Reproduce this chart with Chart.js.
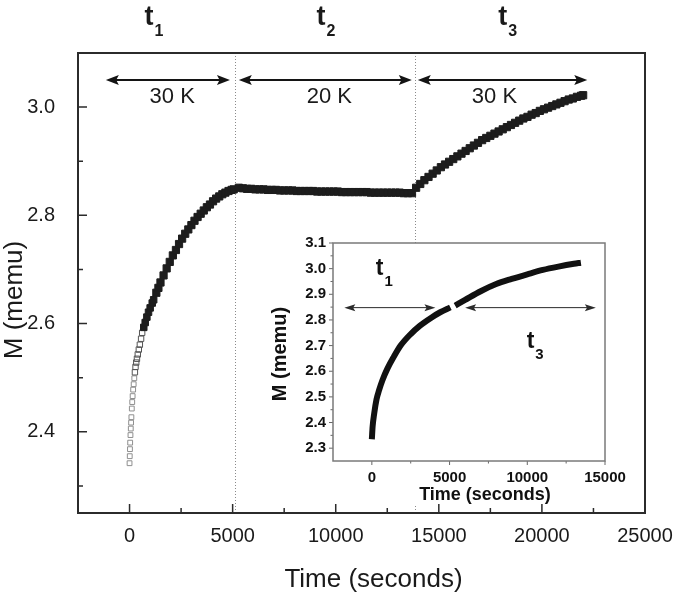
<!DOCTYPE html>
<html>
<head>
<meta charset="utf-8">
<script src="https://cdn.jsdelivr.net/npm/chart.js@4.4.1/dist/chart.umd.min.js"></script>
<style>
  html, body { margin: 0; padding: 0; background: #fff; }
  #wrap { position: relative; width: 675px; height: 595px; }
  #mainChart { position: absolute; left: 0; top: 0; }
  #insetChart { position: absolute; left: 262px; top: 232px; }
</style>
</head>
<body>
<div id="wrap">
  <canvas id="mainChart" width="675" height="595"></canvas>
  <canvas id="insetChart" width="375" height="272"></canvas>
</div>
<script>
// main curve (time in s, M in memu)
var timeT1 = [0, 10, 20, 30, 45, 60, 75, 90, 110, 130, 150, 175, 200, 230, 260, 290, 325, 360, 400, 450,
  500, 560, 612, 690, 760, 840, 920, 1000, 1100, 1170, 1300, 1400, 1500, 1650, 1800, 1950, 2100, 2250, 2400, 2550,
  2700, 2850, 3000, 3150, 3300, 3450, 3600, 3750, 3900, 4050, 4200, 4350, 4500, 4650, 4800, 4950, 5050];
var magT1 = [2.342, 2.355, 2.368, 2.380, 2.394, 2.406, 2.417, 2.427, 2.443, 2.455, 2.466, 2.478, 2.488, 2.499, 2.510, 2.520, 2.528, 2.535, 2.543, 2.552,
  2.561, 2.572, 2.583, 2.593, 2.602, 2.612, 2.621, 2.629, 2.638, 2.644, 2.657, 2.666, 2.676, 2.689, 2.702, 2.714, 2.726, 2.736, 2.747, 2.757,
  2.766, 2.774, 2.782, 2.790, 2.797, 2.803, 2.809, 2.815, 2.820, 2.826, 2.831, 2.835, 2.839, 2.842, 2.845, 2.847, 2.848];

var timeT2 = [5300, 5500, 5700, 5900, 6100, 6300, 6500, 6700, 6900, 7100, 7300, 7500, 7700, 7900, 8100, 8300, 8500, 8700, 8900, 9100,
  9300, 9500, 9700, 9900, 10100, 10300, 10500, 10700, 10900, 11100, 11300, 11500, 11700, 11900, 12100, 12300, 12500, 12700, 12900, 13100,
  13300, 13500, 13700];
var magT2 = [2.851, 2.850, 2.849, 2.849, 2.848, 2.848, 2.848, 2.847, 2.847, 2.847, 2.846, 2.846, 2.846, 2.846, 2.845, 2.845, 2.845, 2.845, 2.845, 2.844,
  2.844, 2.844, 2.844, 2.844, 2.844, 2.843, 2.843, 2.843, 2.843, 2.843, 2.843, 2.843, 2.842, 2.842, 2.842, 2.842, 2.842, 2.842, 2.842, 2.842,
  2.841, 2.841, 2.841];

var timeT3 = [13900, 14100, 14300, 14500, 14700, 14900, 15100, 15300, 15500, 15700, 15900, 16100, 16300, 16500, 16700, 16900, 17100, 17300, 17500, 17700,
  17900, 18100, 18300, 18500, 18700, 18900, 19100, 19300, 19500, 19700, 19900, 20100, 20300, 20500, 20700, 20900, 21100, 21300, 21500, 21700,
  21900, 22000];
var magT3 = [2.851, 2.858, 2.865, 2.871, 2.877, 2.883, 2.889, 2.894, 2.899, 2.904, 2.909, 2.914, 2.919, 2.924, 2.929, 2.934, 2.939, 2.943, 2.947, 2.951,
  2.955, 2.959, 2.963, 2.967, 2.971, 2.975, 2.979, 2.982, 2.986, 2.989, 2.993, 2.996, 2.999, 3.002, 3.005, 3.008, 3.011, 3.014, 3.016, 3.019,
  3.021, 3.022];

// inset curve (t1 and t3 joined)
var insetTimeA = [0, 50, 150, 300, 470, 680, 1000, 1400, 1850, 2500, 3100, 3800, 4400, 5050];
var insetMagA = [2.335, 2.385, 2.435, 2.490, 2.527, 2.565, 2.610, 2.655, 2.700, 2.745, 2.778, 2.808, 2.830, 2.849];
var insetTimeB = [5360, 6000, 7000, 8000, 9000, 10000, 11000, 12000, 13000, 13450];
var insetMagB = [2.856, 2.878, 2.912, 2.940, 2.960, 2.978, 2.995, 3.008, 3.019, 3.023];

// ticks
var xMajor = [0, 5000, 10000, 15000, 20000, 25000];
var xMinor = [2500, 7500, 12500, 17500, 22500];
var yMajor = [2.4, 2.6, 2.8, 3.0];
var yMinor = [2.3, 2.5, 2.7, 2.9];
var insetXMajor = [0, 5000, 10000, 15000];
var insetXMinor = [2500, 7500, 12500];
var insetYMajor = [2.3, 2.4, 2.5, 2.6, 2.7, 2.8, 2.9, 3.0, 3.1];
var insetYMinor = [2.35, 2.45, 2.55, 2.65, 2.75, 2.85, 2.95, 3.05];

// annotations
var stepBounds = [5125, 13860];
var arrowFrom = [-1150, 5300, 13980];
var arrowTo = [4870, 13690, 22200];
var arrowLevel = 3.05;
var tempLabels = ['30 K', '20 K', '30 K'];
var tempLabelTime = [2070, 9690, 17700];
var tempLabelLevel = 3.018;
var phaseSubs = ['1', '2', '3'];
var phaseTime = [723, 9065, 17888];

var insetArrowFrom = [-1770, 6000];
var insetArrowTo = [4090, 14410];
var insetArrowLevel = 2.848;
var insetPhaseSubs = ['1', '3'];
var insetPhaseTime = [255, 9962];
var insetPhaseLevel = [2.975, 2.689];

var FONT = "'Liberation Sans', Arial, sans-serif";
var NARROW = "'Liberation Sans Narrow', 'Liberation Sans', Arial, sans-serif";

function toPoints(xs, ys) {
    return xs.map(function (x, i) { return { x: x, y: ys[i] }; });
}

function drawArrow(ctx, x1, x2, y, head, half, lw, color) {
    ctx.strokeStyle = color;
    ctx.fillStyle = color;
    ctx.lineWidth = lw;
    ctx.beginPath();
    ctx.moveTo(x1 + head * 0.5, y);
    ctx.lineTo(x2 - head * 0.5, y);
    ctx.stroke();
    ctx.beginPath();
    ctx.moveTo(x1, y);
    ctx.lineTo(x1 + head, y - half);
    ctx.lineTo(x1 + head * 0.8, y);
    ctx.lineTo(x1 + head, y + half);
    ctx.closePath();
    ctx.fill();
    ctx.beginPath();
    ctx.moveTo(x2, y);
    ctx.lineTo(x2 - head, y - half);
    ctx.lineTo(x2 - head * 0.8, y);
    ctx.lineTo(x2 - head, y + half);
    ctx.closePath();
    ctx.fill();
}

// tick marks; dir +1 = into the plot, -1 = outward
function drawTicks(ctx, chart, xs, ys, majLen, minLen, dir, color, lw) {
    var a = chart.chartArea;
    ctx.strokeStyle = color;
    ctx.lineWidth = lw;
    ctx.beginPath();
    [[xs[0], majLen], [xs[1], minLen]].forEach(function (set) {
        set[0].forEach(function (v) {
            var px = chart.scales.x.getPixelForValue(v);
            ctx.moveTo(px, a.bottom);
            ctx.lineTo(px, a.bottom - dir * set[1]);
        });
    });
    [[ys[0], majLen], [ys[1], minLen]].forEach(function (set) {
        set[0].forEach(function (v) {
            var py = chart.scales.y.getPixelForValue(v);
            ctx.moveTo(a.left, py);
            ctx.lineTo(a.left + dir * set[1], py);
        });
    });
    ctx.stroke();
}

function subLabel(ctx, x, y, sub, bigFont, smallFont, dy) {
    ctx.textAlign = 'left';
    ctx.textBaseline = 'alphabetic';
    ctx.font = bigFont;
    ctx.fillText('t', x, y);
    var w = ctx.measureText('t').width;
    ctx.font = smallFont;
    ctx.fillText(sub, x + w + 1, y + dy);
}

var mainDecor = {
    id: 'mainDecor',
    beforeDatasetsDraw: function (chart) {
        var ctx = chart.ctx, a = chart.chartArea, xs = chart.scales.x;
        ctx.save();
        ctx.strokeStyle = '#8a8a8a';
        ctx.lineWidth = 1;
        ctx.setLineDash([1, 2]);
        stepBounds.forEach(function (t) {
            var px = Math.round(xs.getPixelForValue(t)) + 0.5;
            ctx.beginPath();
            ctx.moveTo(px, a.top);
            ctx.lineTo(px, a.bottom);
            ctx.stroke();
        });
        ctx.setLineDash([]);
        drawTicks(ctx, chart, [xMajor, xMinor], [yMajor, yMinor], 9, 5, 1, '#2b2b2b', 1.5);
        ctx.lineWidth = 2;
        ctx.strokeStyle = '#2b2b2b';
        ctx.strokeRect(a.left, a.top, a.right - a.left, a.bottom - a.top);
        ctx.restore();
    },
    afterDatasetsDraw: function (chart) {
        var ctx = chart.ctx, a = chart.chartArea, xs = chart.scales.x, ys = chart.scales.y;
        ctx.save();
        var ay = ys.getPixelForValue(arrowLevel);
        arrowFrom.forEach(function (t, i) {
            drawArrow(ctx, xs.getPixelForValue(t), xs.getPixelForValue(arrowTo[i]), ay, 13, 5, 2, '#141414');
        });
        ctx.fillStyle = '#1a1a1a';
        ctx.font = '22px ' + FONT;
        ctx.textAlign = 'center';
        ctx.textBaseline = 'middle';
        tempLabels.forEach(function (txt, i) {
            ctx.fillText(txt, xs.getPixelForValue(tempLabelTime[i]), ys.getPixelForValue(tempLabelLevel));
        });
        phaseSubs.forEach(function (s, i) {
            subLabel(ctx, xs.getPixelForValue(phaseTime[i]), 25, s, 'bold 27px ' + NARROW, 'bold 16px ' + NARROW, 11);
        });
        // axis titles
        ctx.font = '26px ' + FONT;
        ctx.textAlign = 'center';
        ctx.textBaseline = 'middle';
        ctx.fillText('Time (seconds)', (a.left + a.right) / 2 + 12, 580);
        ctx.translate(15, (a.top + a.bottom) / 2 + 17);
        ctx.rotate(-Math.PI / 2);
        ctx.fillText('M (memu)', 0, 0);
        ctx.restore();
    }
};

var insetDecor = {
    id: 'insetDecor',
    beforeDraw: function (chart) {
        var ctx = chart.ctx, a = chart.chartArea;
        ctx.save();
        ctx.fillStyle = '#ffffff';
        ctx.fillRect(0, a.top, chart.width, chart.height - a.top);
        ctx.restore();
    },
    beforeDatasetsDraw: function (chart) {
        var ctx = chart.ctx, a = chart.chartArea;
        ctx.save();
        drawTicks(ctx, chart, [insetXMajor, insetXMinor], [insetYMajor, insetYMinor], 4, 2.5, -1, '#666', 1);
        ctx.lineWidth = 1.5;
        ctx.strokeStyle = '#7a7a7a';
        ctx.strokeRect(a.left, a.top, a.right - a.left, a.bottom - a.top);
        ctx.restore();
    },
    afterDatasetsDraw: function (chart) {
        var ctx = chart.ctx, a = chart.chartArea, xs = chart.scales.x, ys = chart.scales.y;
        ctx.save();
        var ay = ys.getPixelForValue(insetArrowLevel);
        insetArrowFrom.forEach(function (t, i) {
            drawArrow(ctx, xs.getPixelForValue(t), xs.getPixelForValue(insetArrowTo[i]), ay, 11, 3.5, 1, '#2a2a2a');
        });
        ctx.fillStyle = '#111';
        insetPhaseSubs.forEach(function (s, i) {
            subLabel(ctx, xs.getPixelForValue(insetPhaseTime[i]), ys.getPixelForValue(insetPhaseLevel[i]), s,
                'bold 23px ' + NARROW, 'bold 15px ' + NARROW, 11);
        });
        ctx.font = 'bold 18px ' + FONT;
        ctx.textAlign = 'center';
        ctx.textBaseline = 'middle';
        ctx.fillText('Time (seconds)', 223, 263);
        ctx.font = 'bold 20px ' + FONT;
        ctx.translate(18, (a.top + a.bottom) / 2 + 2);
        ctx.rotate(-Math.PI / 2);
        ctx.fillText('M (memu)', 0, 0);
        ctx.restore();
    }
};

function fixedTicks(list) {
    return function (scale) {
        scale.ticks = list.map(function (v) { return { value: v }; });
    };
}

// keep tick labels from pushing the plot area in
function fixedSize(prop, size) {
    return function (scale) {
        scale[prop] = size;
        scale.paddingLeft = 0;
        scale.paddingRight = 0;
        scale.paddingTop = 0;
        scale.paddingBottom = 0;
    };
}

function markerSize(c) {
    var t = c.raw ? c.raw.x : 99999;
    if (t < 250) return 3.4;
    if (t < 650) return 3.8;
    if (t < 1200) return 4.6;
    return 5.1;
}

var mainPoints = toPoints(timeT1, magT1).concat(toPoints(timeT2, magT2), toPoints(timeT3, magT3));

new Chart(document.getElementById('mainChart').getContext('2d'), {
    type: 'scatter',
    data: {
        datasets: [{
            data: mainPoints,
            showLine: false,
            pointStyle: 'rect',
            pointBorderWidth: 1,
            pointRadius: markerSize,
            pointBorderColor: function (c) {
                if (!c.raw) return '#1d1d1d';
                return c.raw.x < 250 ? '#8f8f8f' : (c.raw.x < 650 ? '#555' : '#1d1d1d');
            },
            pointBackgroundColor: function (c) {
                return c.raw && c.raw.x < 650 ? 'rgba(255,255,255,0)' : '#1d1d1d';
            }
        }]
    },
    options: {
        responsive: false,
        animation: false,
        events: [],
        devicePixelRatio: 1,
        layout: { autoPadding: false, padding: { top: 53, right: 30, left: 0, bottom: 0 } },
        plugins: { legend: { display: false }, tooltip: { enabled: false } },
        scales: {
            x: {
                type: 'linear', min: -2500, max: 25000,
                afterBuildTicks: fixedTicks(xMajor),
                afterFit: fixedSize('height', 82),
                grid: { display: false, drawTicks: false },
                border: { display: false },
                ticks: {
                    padding: 11, maxRotation: 0, autoSkip: false, color: '#1a1a1a',
                    font: { family: FONT, size: 20 },
                    callback: function (v) { return String(v); }
                }
            },
            y: {
                min: 2.25, max: 3.1,
                afterBuildTicks: fixedTicks(yMajor),
                afterFit: fixedSize('width', 78),
                grid: { display: false, drawTicks: false },
                border: { display: false },
                ticks: {
                    padding: 23, autoSkip: false, color: '#1a1a1a',
                    font: { family: FONT, size: 20 },
                    callback: function (v) { return v.toFixed(1); }
                }
            }
        }
    },
    plugins: [mainDecor]
});

new Chart(document.getElementById('insetChart').getContext('2d'), {
    type: 'line',
    data: {
        datasets: [
            { data: toPoints(insetTimeA, insetMagA), borderColor: '#111', borderWidth: 6, pointRadius: 0, cubicInterpolationMode: 'monotone' },
            { data: toPoints(insetTimeB, insetMagB), borderColor: '#111', borderWidth: 6, pointRadius: 0, cubicInterpolationMode: 'monotone' }
        ]
    },
    options: {
        responsive: false,
        animation: false,
        events: [],
        devicePixelRatio: 1,
        layout: { autoPadding: false, padding: { top: 11, right: 32, left: 0, bottom: 0 } },
        plugins: { legend: { display: false }, tooltip: { enabled: false } },
        scales: {
            x: {
                type: 'linear', min: -2500, max: 15000,
                afterBuildTicks: fixedTicks(insetXMajor),
                afterFit: fixedSize('height', 43),
                grid: { display: false, drawTicks: false },
                border: { display: false },
                ticks: {
                    padding: 8, maxRotation: 0, autoSkip: false, color: '#111',
                    font: { family: FONT, size: 15, weight: 'bold' },
                    callback: function (v) { return String(v); }
                }
            },
            y: {
                min: 2.25, max: 3.1,
                afterBuildTicks: fixedTicks(insetYMajor),
                afterFit: fixedSize('width', 71),
                grid: { display: false, drawTicks: false },
                border: { display: false },
                ticks: {
                    padding: 7, autoSkip: false, color: '#111',
                    font: { family: FONT, size: 15, weight: 'bold' },
                    callback: function (v) { return v.toFixed(1); }
                }
            }
        }
    },
    plugins: [insetDecor]
});
</script>
</body>
</html>
